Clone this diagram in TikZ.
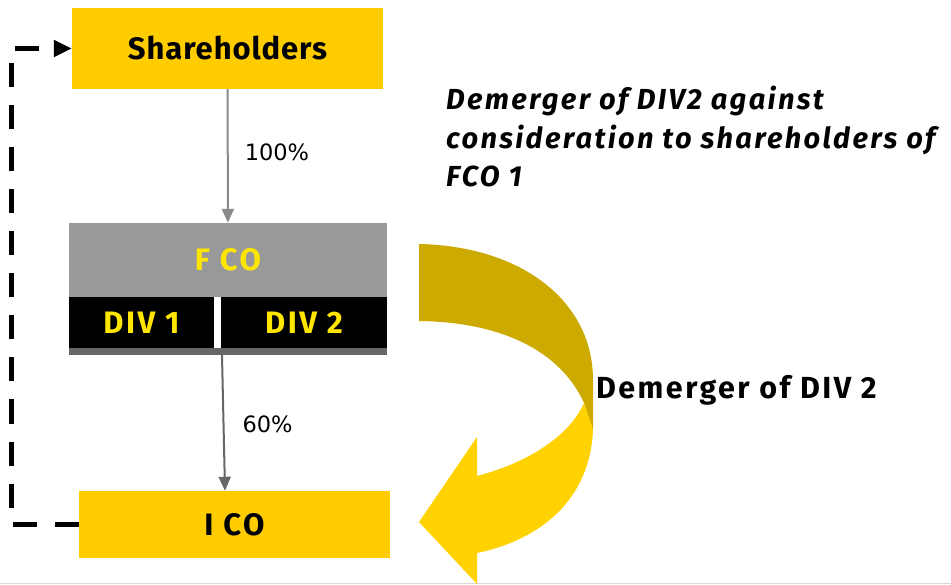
\documentclass[tikz,border=0pt]{standalone}
\usepackage{fontspec}
\setmainfont{Fira Sans}
\newfontfamily\capsfont[LetterSpace=8]{Fira Sans}
\newfontfamily\namefont[LetterSpace=3]{Fira Sans}
\newfontfamily\pctfont{DejaVu Sans}
\usepackage{tikz}
\usetikzlibrary{arrows.meta,positioning,calc}
\definecolor{eyyellow}{HTML}{FFCC00}
\definecolor{eygold}{HTML}{CCAA00}
\definecolor{eybright}{HTML}{FFD200}
\definecolor{eytext}{HTML}{FFE600}
\definecolor{eygrey}{HTML}{999999}
\definecolor{eydark}{HTML}{666666}
\tikzset{
  >={Stealth[length=14pt,width=12pt,inset=0pt]},
  % boxes
  ybox/.style={rectangle,fill=eyyellow,inner sep=0pt,minimum width=311pt,
               font=\capsfont\fontsize{31}{36}\selectfont\bfseries},
  gbox/.style={rectangle,fill=eygrey,inner sep=0pt,text=eytext,
               font=\capsfont\fontsize{31}{36}\selectfont\bfseries},
  divbox/.style={rectangle,fill=black,inner sep=0pt,text=eytext,minimum height=51pt,
               font=\capsfont\fontsize{31}{36}\selectfont\bfseries},
  % lines
  pline/.style={->,draw=#1,line width=2pt},
  pline/.default=eygrey!90!black,
  pct/.style={font=\pctfont\fontsize{22.5}{26}\selectfont,inner sep=0pt},
  dashline/.style={draw=black,line width=5pt,dash pattern=on 24pt off 18pt,
                   -{Triangle[length=18pt,width=16pt]}},
  note/.style={font=\capsfont\fontsize{29}{38.5}\selectfont\bfseries,inner sep=0pt,align=left},
}
\begin{document}
\begin{tikzpicture}[x=1pt,y=-1pt]
  \useasboundingbox (0,0) rectangle (951,585);
  \draw[black!15,line width=1pt] (0,583.5) -- (951,583.5);
  \node[ybox,minimum height=81pt] (share) at (227.5,48.5) {\namefont Shareholders};
  \node[gbox,minimum width=318pt,minimum height=74pt] (fco) at (228,260) {F CO};
  \node[divbox,minimum width=145pt] (div1) at (141.5,322.5) {DIV 1};
  \node[divbox,minimum width=166pt] (div2) at (304,322.5) {DIV 2};
  \node[rectangle,fill=eydark,inner sep=0pt,minimum width=318pt,minimum height=7pt] (bar) at (228,351.5) {};
  \node[ybox,minimum height=67pt] (ico) at (234.5,524.5) {I CO};
  \draw[pline] (share) -- node[pct,right=16pt,yshift=4pt]{100\%} (fco);
  \draw[pline=eydark] ([xshift=-6pt]bar.south) -- node[pct,right=18pt,yshift=-1pt]{60\%} ([xshift=-9.5pt]ico.north);
  \draw[dashline] (ico.west) -- ++(-67,0) |- (share.west);
  % demerger ribbon
  \fill[eygold] (419,244) .. controls (520,246) and (593,300) .. (593,380)
    -- (593,430) -- (584,403) .. controls (560,350) and (500,322) .. (419,321) -- cycle;
  \fill[eybright] (584,403) -- (593,430) .. controls (590,500) and (540,540) .. (477,553)
    -- (477,584) -- (419,522) -- (477,437) -- (477,476)
    .. controls (530,462) and (570,435) .. (584,403) -- cycle;
  \node[note,anchor=north west] (title) at (446,86) {\itshape Demerger of DIV2 against\\\itshape consideration to shareholders of\\\itshape FCO 1};
  \node[note,anchor=west,font=\capsfont\fontsize{30.5}{36}\selectfont\bfseries] (demerger) at (596,390) {Demerger of DIV 2};
\end{tikzpicture}
\end{document}
